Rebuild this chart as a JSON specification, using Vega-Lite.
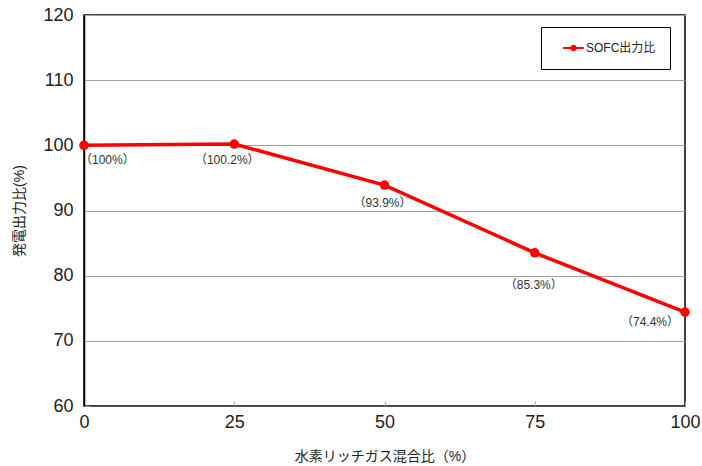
{
  "$schema": "https://vega.github.io/schema/vega-lite/v6.json",
  "width": 601,
  "height": 391,
  "autosize": {"type": "none"},
  "padding": {"left": 84, "top": 15, "right": 17, "bottom": 60},
  "background": "white",
  "config": {
    "font": "Liberation Sans, Noto Sans CJK JP",
    "view": {"stroke": "#000000", "strokeWidth": 1.5}
  },
  "data": {
    "values": [
      {"ratio": 0, "power": 100.0, "label": "（100%）", "series": "SOFC出力比"},
      {"ratio": 25, "power": 100.2, "label": "（100.2%）", "series": "SOFC出力比"},
      {"ratio": 50, "power": 93.9, "label": "（93.9%）", "series": "SOFC出力比"},
      {"ratio": 75, "power": 83.5, "label": "（85.3%）", "series": "SOFC出力比"},
      {"ratio": 100, "power": 74.4, "label": "（74.4%）", "series": "SOFC出力比"}
    ]
  },
  "encoding": {
    "x": {
      "field": "ratio", "type": "quantitative",
      "scale": {"domain": [0, 100], "nice": false},
      "axis": {
        "values": [0, 25, 50, 75, 100], "grid": false,
        "title": "水素リッチガス混合比（%）", "titleFontSize": 14, "titleFontWeight": "normal",
        "titleColor": "#222222", "titlePadding": 18,
        "labelFontSize": 18, "labelColor": "#222222", "labelPadding": 12,
        "tickSize": -5, "tickColor": "#aaaaaa", "domainColor": "#555555",
        "labelFlush": false
      }
    },
    "y": {
      "field": "power", "type": "quantitative",
      "scale": {"domain": [60, 120], "nice": false, "zero": false},
      "axis": {
        "values": [60, 70, 80, 90, 100, 110, 120], "grid": true, "gridColor": "#a0a0a0", "gridWidth": 1,
        "title": "発電出力比(%)", "titleFontSize": 14, "titleFontWeight": "normal",
        "titleColor": "#222222", "titlePadding": 16,
        "labelFontSize": 18, "labelColor": "#222222", "labelPadding": 16,
        "tickSize": -5, "tickColor": "#aaaaaa", "domainColor": "#000000", "domainWidth": 1.5
      }
    }
  },
  "layer": [
    {
      "mark": {"type": "line", "strokeWidth": 3.5, "point": {"filled": true, "size": 90, "opacity": 1}},
      "encoding": {
        "color": {
          "field": "series", "type": "nominal",
          "scale": {"range": ["#ff0000"]},
          "legend": {
            "title": null, "orient": "none", "legendX": 457, "legendY": 12,
            "padding": 14, "strokeColor": "#000000", "fillColor": "#ffffff",
            "labelFontSize": 12, "labelColor": "#222222",
            "labelExpr": "datum.label + '\u00a0\u00a0\u00a0\u00a0\u00a0\u00a0\u00a0\u00a0\u00a0\u00a0\u00a0'",
            "symbolType": "M -1 -0.1 L 1 -0.1 L 1 0.1 L -1 0.1 Z M -0.32 0 A 0.32 0.32 0 1 1 0.32 0 A 0.32 0.32 0 1 1 -0.32 0 Z",
            "symbolSize": 420, "symbolOffset": 8, "labelOffset": 2, "clipHeight": 14,
            "encode": {"symbols": {"update": {"fill": {"value": "#ff0000"}, "fillOpacity": {"value": 1}, "stroke": {"value": "#ff0000"}, "strokeWidth": {"value": 0}}}}
          }
        }
      }
    },
    {
      "transform": [{"filter": "datum.ratio == 0"}],
      "mark": {"type": "text", "align": "left", "dx": -4, "dy": 15, "fontSize": 12, "color": "#333333"},
      "encoding": {"text": {"field": "label"}}
    },
    {
      "transform": [{"filter": "datum.ratio == 25"}],
      "mark": {"type": "text", "align": "center", "dx": -7, "dy": 16, "fontSize": 12, "color": "#333333"},
      "encoding": {"text": {"field": "label"}}
    },
    {
      "transform": [{"filter": "datum.ratio == 50"}],
      "mark": {"type": "text", "align": "center", "dx": -2, "dy": 18, "fontSize": 12, "color": "#333333"},
      "encoding": {"text": {"field": "label"}}
    },
    {
      "transform": [{"filter": "datum.ratio == 75"}],
      "mark": {"type": "text", "align": "center", "dx": -1, "dy": 32, "fontSize": 12, "color": "#333333"},
      "encoding": {"text": {"field": "label"}}
    },
    {
      "transform": [{"filter": "datum.ratio == 100"}],
      "mark": {"type": "text", "align": "right", "dx": -6, "dy": 10, "fontSize": 12, "color": "#333333"},
      "encoding": {"text": {"field": "label"}}
    }
  ]
}
